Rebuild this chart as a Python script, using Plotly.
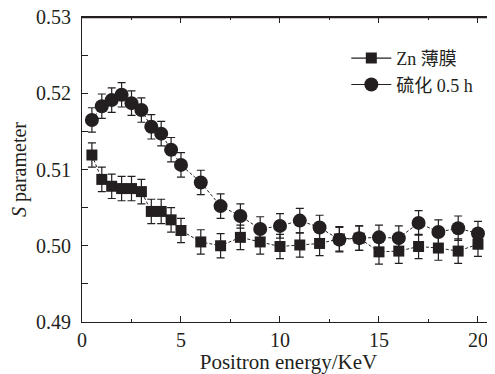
import plotly.graph_objects as go

energy = [0.5, 1, 1.5, 2, 2.5, 3, 3.5, 4, 4.5, 5, 6, 7, 8, 9, 10, 11, 12, 13, 14, 15, 16, 17, 18, 19, 20]
s_zn = [0.5119, 0.5087, 0.5078, 0.5075, 0.5075, 0.5071, 0.5045, 0.5045, 0.5034, 0.5020,
        0.5005, 0.5000, 0.5011, 0.5005, 0.4999, 0.5001, 0.5003, 0.5009, 0.5010, 0.4992,
        0.4993, 0.4999, 0.4997, 0.4993, 0.5002]
s_sulf = [0.5165, 0.5183, 0.5191, 0.5198, 0.5187, 0.5178, 0.5156, 0.5147, 0.5126, 0.5106,
          0.5083, 0.5052, 0.5039, 0.5022, 0.5026, 0.5033, 0.5024, 0.5008, 0.5010, 0.5011,
          0.5010, 0.5030, 0.5018, 0.5023, 0.5016]
err_zn = [0.0016] * len(energy)
err_sulf = [0.0016] * len(energy)
names = ["Zn 薄膜", "硫化 0.5 h"]

FONT = "Liberation Serif, Noto Sans CJK SC, serif"
INK = "#231f20"

fig = go.Figure()
for y, e, sym, size in [(s_zn, err_zn, "square", 11), (s_sulf, err_sulf, "circle", 14)]:
    fig.add_trace(go.Scatter(
        x=energy, y=y, mode="lines+markers", showlegend=False,
        line=dict(color=INK, width=1, dash="3px,2px"),
        marker=dict(symbol=sym, size=size, color=INK),
        error_y=dict(type="data", array=e, color=INK, thickness=1.2, width=4),
    ))
for name, sym, size in [(names[0], "square", 11), (names[1], "circle", 14)]:
    fig.add_trace(go.Scatter(
        x=[None], y=[None], mode="lines+markers", name=name,
        line=dict(color=INK, width=1.2),
        marker=dict(symbol=sym, size=size, color=INK),
    ))

# page body has an 8px margin: figure is 487x366 placed at (8, 8)
fig.update_layout(
    width=487, height=366,
    margin=dict(l=74, r=0, t=9, b=52),
    paper_bgcolor="white", plot_bgcolor="white",
    font=dict(family=FONT, size=20, color=INK),
    legend=dict(x=0.64, y=0.925, xanchor="left", yanchor="top",
                bgcolor="rgba(0,0,0,0)", font=dict(size=18), tracegroupgap=0,
                itemwidth=40),
    xaxis=dict(
        range=[0, 20.86], showline=True, linecolor=INK, linewidth=1, mirror="all",
        automargin=False, ticklabeloverflow="allow",
        tickmode="array", tickvals=[0, 5, 10, 15, 20], ticks="inside", ticklen=6,
        tickcolor=INK, showgrid=False, zeroline=False,
        minor=dict(tickvals=[2.5, 7.5, 12.5, 17.5], ticks="inside", ticklen=3, tickcolor=INK),
        title=dict(text="Positron energy/KeV", standoff=4, font=dict(size=21)),
    ),
    yaxis=dict(
        range=[0.49, 0.53], showline=True, linecolor=INK, linewidth=1,
        automargin=False, ticklabeloverflow="allow",
        tickmode="array", tickvals=[0.49, 0.50, 0.51, 0.52, 0.53],
        ticktext=["0.49", "0.50", "0.51", "0.52", "0.53"],
        ticks="inside", ticklen=6, tickcolor=INK, showgrid=False, zeroline=False,
        ticklabelstandoff=6,
        minor=dict(tickvals=[0.495, 0.505, 0.515, 0.525], ticks="inside", ticklen=6, tickcolor=INK),
        title=dict(text="<i>S</i> parameter", standoff=12, font=dict(size=20)),
    ),
    shapes=[dict(type="line", xref="paper", yref="paper", x0=0, x1=1, y0=0.998, y1=0.998,
                 line=dict(color=INK, width=1.5), layer="above")],
)
fig.write_html("out.html")
